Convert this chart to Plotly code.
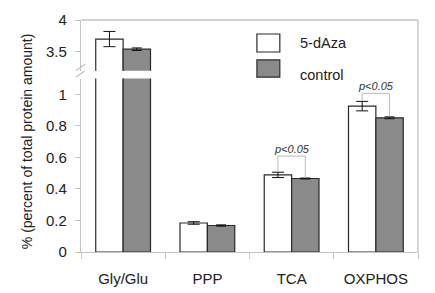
import plotly.graph_objects as go

categories = ["Gly/Glu", "PPP", "TCA", "OXPHOS"]
aza_values = [3.70, 0.184, 0.489, 0.925]
aza_errors = [0.12, 0.008, 0.017, 0.03]
ctrl_values = [3.54, 0.168, 0.466, 0.851]
ctrl_errors = [0.02, 0.004, 0.003, 0.006]
series_names = ["5-dAza", "control"]
low_ticks = [0, 0.2, 0.4, 0.6, 0.8, 1]
high_ticks = [3.5, 4]

FONT = "Liberation Sans, Arial, sans-serif"
AX = "#c4c4c4"
TXT = "#222222"
GRAY = "#8a8a8a"
EDGE = "#2a2a2a"

fig = go.Figure()
for xa, ya in [("x", "y"), ("x2", "y2")]:
    fig.add_trace(go.Bar(x=categories, y=aza_values, name=series_names[0],
                         marker=dict(color="white", line=dict(color=EDGE, width=1.2)),
                         error_y=dict(type="data", array=aza_errors, color="#111", thickness=1, width=6),
                         xaxis=xa, yaxis=ya, showlegend=False))
    fig.add_trace(go.Bar(x=categories, y=ctrl_values, name=series_names[1],
                         marker=dict(color=GRAY, line=dict(color=EDGE, width=1.2)),
                         error_y=dict(type="data", array=ctrl_errors, color="#111", thickness=1, width=5),
                         xaxis=xa, yaxis=ya, showlegend=False))

low_top = 1.1
low_dom = [0, 0.7477]
high_dom = [0.781, 1]

fig.update_layout(
    width=427, height=285,
    margin=dict(l=73, r=17, t=12, b=41),
    paper_bgcolor="white", plot_bgcolor="white",
    barmode="group", bargap=0.35, bargroupgap=0,
    font=dict(family=FONT, size=15, color=TXT),
    xaxis=dict(domain=[0, 1], anchor="y", showline=True, linecolor=AX, linewidth=1.3,
               ticks="outside", tickson="boundaries", ticklen=6, tickcolor=AX,
               tickfont=dict(size=15, color=TXT), ticklabelstandoff=13,
               showgrid=False, zeroline=False, automargin=False),
    xaxis2=dict(domain=[0, 1], anchor="y2", matches="x", visible=False),
    yaxis=dict(domain=low_dom, range=[0, low_top], tickvals=low_ticks,
               ticktext=[f"{v:g}" for v in low_ticks],
               showline=True, linecolor=AX, linewidth=1.3, ticks="outside", ticklen=5,
               tickcolor=AX, showgrid=False, zeroline=False, ticklabelstandoff=5,
               tickfont=dict(size=15, color=TXT), automargin=False),
    yaxis2=dict(domain=high_dom, range=[3.2, 4], tickvals=high_ticks,
                ticktext=[f"{v:g}" for v in high_ticks],
                showline=True, linecolor=AX, linewidth=1.3, ticks="outside", ticklen=5,
                tickcolor=AX, showgrid=False, zeroline=False, ticklabelstandoff=5,
                tickfont=dict(size=15, color=TXT), automargin=False),
)

shapes = []
# top and right frame
shapes.append(dict(type="line", xref="paper", yref="paper", x0=0, x1=1, y0=1, y1=1,
                   line=dict(color=AX, width=1.3)))
shapes.append(dict(type="line", xref="paper", yref="paper", x0=1, x1=1, y0=0, y1=1,
                   line=dict(color=AX, width=1.3)))
# break marks on y axis
for dy in (0.0, -0.028):
    shapes.append(dict(type="line", xref="paper", yref="paper",
                       x0=-0.015, x1=0.012, y0=0.762 + dy + 0.02, y1=0.789 + dy + 0.02,
                       line=dict(color="#aaaaaa", width=1)))

# significance brackets
off = 0.1625
brackets = [(2, 0.508, 0.608, 0.47), (3, 0.957, 1.006, 0.858)]
for idx, yl, ytop, yr in brackets:
    shapes.append(dict(type="line", xref="x", yref="y", x0=idx - off, x1=idx - off, y0=yl, y1=ytop,
                       line=dict(color="#bbbbbb", width=1)))
    shapes.append(dict(type="line", xref="x", yref="y", x0=idx - off, x1=idx + off, y0=ytop, y1=ytop,
                       line=dict(color="#bbbbbb", width=1)))
    shapes.append(dict(type="line", xref="x", yref="y", x0=idx + off, x1=idx + off, y0=ytop, y1=yr,
                       line=dict(color="#bbbbbb", width=1)))
    fig.add_annotation(x=idx, y=ytop, xref="x", yref="y", text="<i>p<0.05</i>",
                       showarrow=False, xanchor="center", yanchor="bottom", yshift=-1,
                       font=dict(size=11, color="#333", family=FONT))

# legend drawn as boxes
shapes.append(dict(type="rect", xref="paper", yref="paper", x0=0.522, x1=0.590, y0=0.862, y1=0.9396,
                   fillcolor="white", line=dict(color=EDGE, width=1.2)))
shapes.append(dict(type="rect", xref="paper", yref="paper", x0=0.522, x1=0.590, y0=0.7541, y1=0.8277,
                   fillcolor=GRAY, line=dict(color=EDGE, width=1.2)))
fig.add_annotation(x=0.643, y=0.9007, xref="paper", yref="paper", text=series_names[0],
                   showarrow=False, xanchor="left", yanchor="middle", font=dict(size=14.5, color=TXT))
fig.add_annotation(x=0.643, y=0.7627, xref="paper", yref="paper", text=series_names[1],
                   showarrow=False, xanchor="left", yanchor="middle", font=dict(size=14.5, color=TXT))

# y axis title
fig.add_annotation(x=-0.160, y=0.478, xref="paper", yref="paper",
                   text="% (percent of total protein amount)", textangle=-90,
                   showarrow=False, xanchor="center", yanchor="middle",
                   font=dict(size=14, color=TXT))

fig.update_layout(shapes=shapes)
fig.write_html("out.html")
